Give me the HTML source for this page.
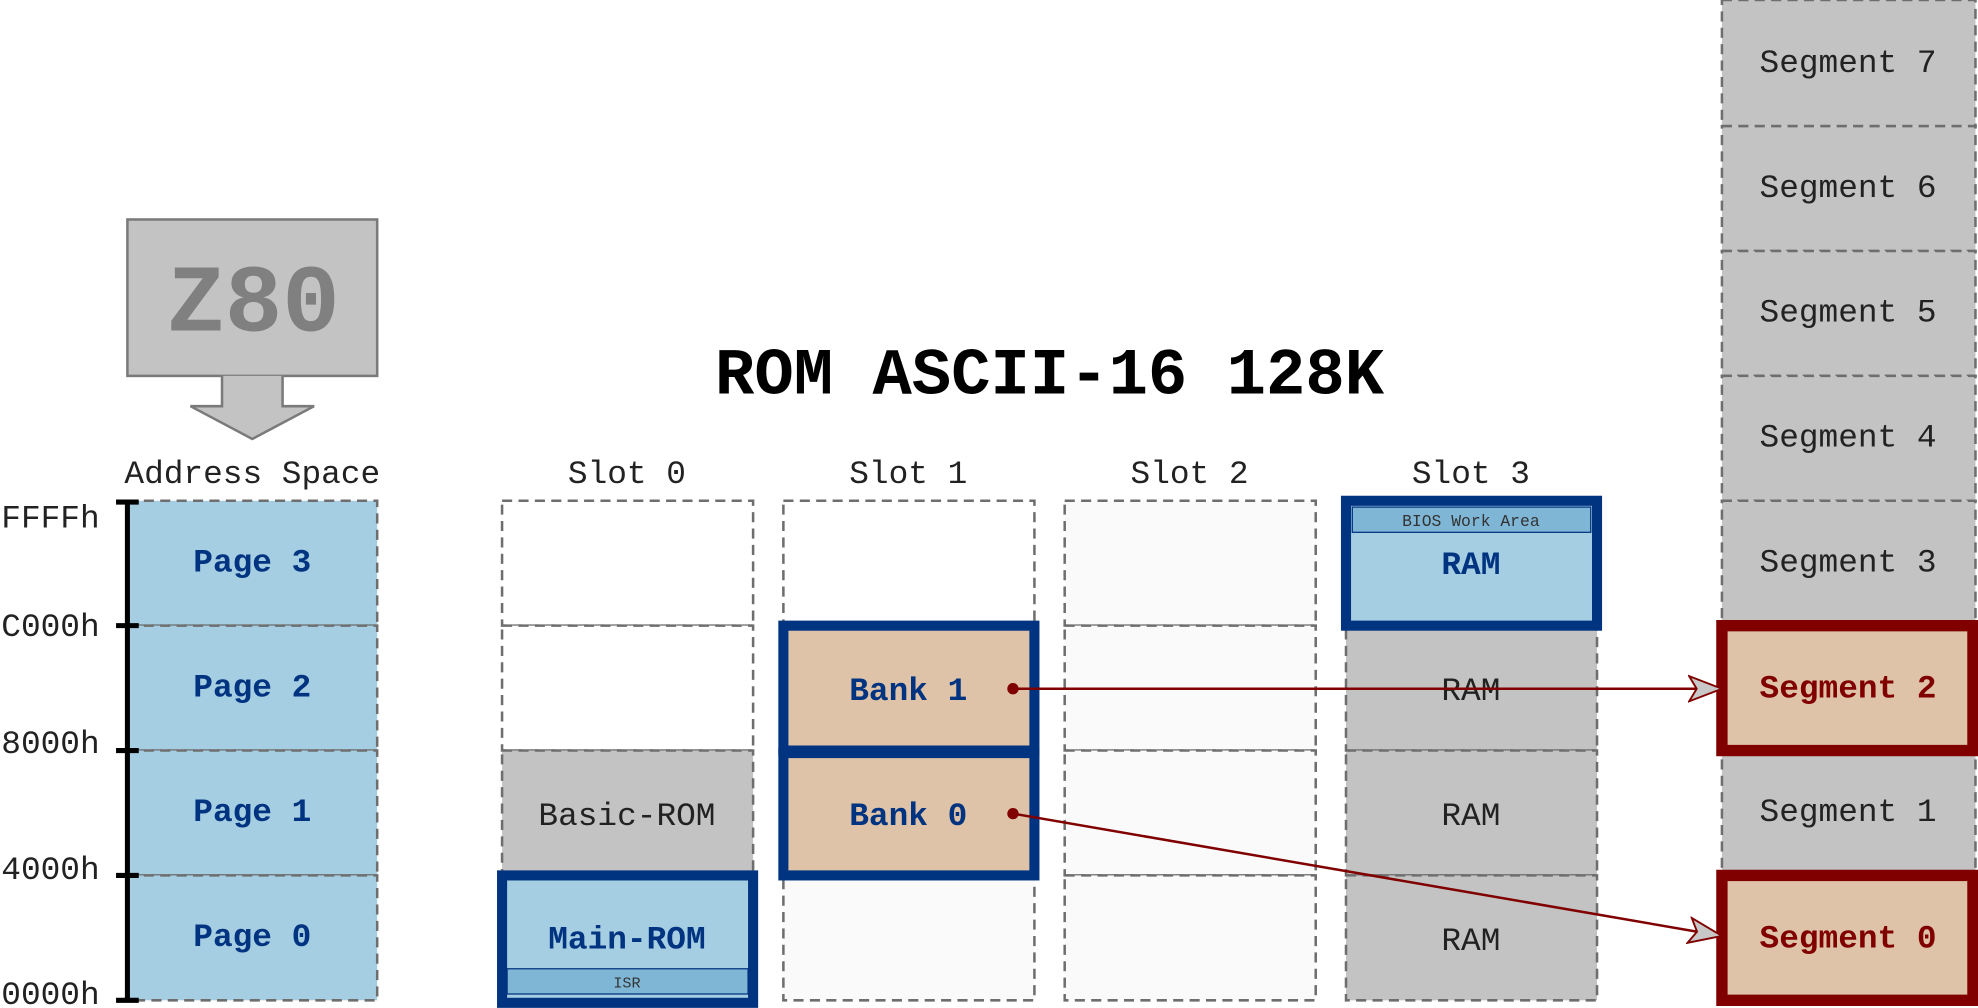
<!DOCTYPE html>
<html><head><meta charset="utf-8"><style>
html,body{margin:0;padding:0;background:#fff;width:1978px;height:1008px;overflow:hidden}
svg{display:block}
text{font-family:"Liberation Mono","DejaVu Sans Mono",monospace}
</style></head><body>
<svg width="1978" height="1008" viewBox="0 0 1568 799.1" preserveAspectRatio="none" xmlns="http://www.w3.org/2000/svg">
<defs>
<marker id="ah" markerWidth="30" markerHeight="24" refX="27" refY="12" orient="auto" markerUnits="userSpaceOnUse">
<path d="M1,2 L27,12 L1,22 L7,12 Z" fill="#c8c8c8" stroke="#800000" stroke-width="1.5"/>
</marker>
</defs>
<g stroke="#6e6e6e" stroke-width="2" stroke-dasharray="8,5">
<rect x="1365" y="0" width="201" height="100" fill="#c3c3c3"/>
<rect x="1365" y="100" width="201" height="99" fill="#c3c3c3"/>
<rect x="1365" y="199" width="201" height="99" fill="#c3c3c3"/>
<rect x="1365" y="298" width="201" height="99" fill="#c3c3c3"/>
<rect x="1365" y="397" width="201" height="99" fill="#c3c3c3"/>
<rect x="1365" y="595" width="201" height="99" fill="#c3c3c3"/>
<rect x="101" y="397" width="198" height="99" fill="#a6cee3"/>
<rect x="101" y="496" width="198" height="99" fill="#a6cee3"/>
<rect x="101" y="595" width="198" height="99" fill="#a6cee3"/>
<rect x="101" y="694" width="198" height="99" fill="#a6cee3"/>
<rect x="398" y="397" width="199" height="99" fill="#fff"/>
<rect x="398" y="496" width="199" height="99" fill="#fff"/>
<rect x="398" y="595" width="199" height="99" fill="#c3c3c3"/>
<rect x="621" y="397" width="199" height="99" fill="#fff"/>
<rect x="621" y="694" width="199" height="99" fill="#fafafa"/>
<rect x="844" y="397" width="199" height="99" fill="#fafafa"/>
<rect x="844" y="496" width="199" height="99" fill="#fafafa"/>
<rect x="844" y="595" width="199" height="99" fill="#fafafa"/>
<rect x="844" y="694" width="199" height="99" fill="#fafafa"/>
<rect x="1067" y="496" width="199" height="99" fill="#c3c3c3"/>
<rect x="1067" y="595" width="199" height="99" fill="#c3c3c3"/>
<rect x="1067" y="694" width="199" height="99" fill="#c3c3c3"/>
</g>
<g stroke="#000" stroke-width="4">
<line x1="101" y1="397" x2="101" y2="794"/>
<line x1="92" y1="398" x2="110" y2="398"/>
<line x1="92" y1="496" x2="110" y2="496"/>
<line x1="92" y1="595" x2="110" y2="595"/>
<line x1="92" y1="694" x2="110" y2="694"/>
<line x1="92" y1="793" x2="110" y2="793"/>
</g>
<g font-size="26" fill="#222" text-anchor="end">
<text x="79" y="418">FFFFh</text>
<text x="79" y="504">C000h</text>
<text x="79" y="597">8000h</text>
<text x="79" y="697">4000h</text>
<text x="79" y="796">0000h</text>
</g>
<rect x="101" y="174" width="198" height="124" fill="#c3c3c3" stroke="#7a7a7a" stroke-width="2"/>
<text x="201" y="262" font-size="76" font-weight="bold" fill="#808080" text-anchor="middle">Z80</text>
<path d="M176,298 L176,322 L151,322 L200,348 L249,322 L224,322 L224,298" fill="#c3c3c3" stroke="#7a7a7a" stroke-width="2"/>
<text x="832" y="312" font-size="52" font-weight="bold" fill="#000" text-anchor="middle">ROM ASCII-16 128K</text>
<g font-size="26" fill="#222" text-anchor="middle">
<text x="200" y="383">Address Space</text>
<text x="497" y="383">Slot 0</text>
<text x="720" y="383">Slot 1</text>
<text x="943" y="383">Slot 2</text>
<text x="1166" y="383">Slot 3</text>
<text x="497" y="654">Basic-ROM</text>
<text x="1166" y="555">RAM</text>
<text x="1166" y="654">RAM</text>
<text x="1166" y="753">RAM</text>
<text x="1465" y="57">Segment 7</text>
<text x="1465" y="156">Segment 6</text>
<text x="1465" y="255">Segment 5</text>
<text x="1465" y="354">Segment 4</text>
<text x="1465" y="453">Segment 3</text>
<text x="1465" y="651">Segment 1</text>
</g>
<g font-size="26" font-weight="bold" fill="#003380" text-anchor="middle">
<text x="200" y="453">Page 3</text>
<text x="200" y="552">Page 2</text>
<text x="200" y="651">Page 1</text>
<text x="200" y="750">Page 0</text>
</g>
<rect x="398" y="694" width="199" height="101" fill="#a6cee3" stroke="#003380" stroke-width="8"/>
<rect x="402" y="768" width="191" height="20" fill="#7fb6d6" stroke="#003380" stroke-width="1"/>
<text x="497" y="752" font-size="26" font-weight="bold" fill="#003380" text-anchor="middle">Main-ROM</text>
<text x="497" y="783" font-size="12" fill="#333" text-anchor="middle">ISR</text>
<rect x="621" y="496" width="199" height="99" fill="#dec3a8" stroke="#003380" stroke-width="8"/>
<rect x="621" y="597" width="199" height="97" fill="#dec3a8" stroke="#003380" stroke-width="8"/>
<text x="720" y="555" font-size="26" font-weight="bold" fill="#003380" text-anchor="middle">Bank 1</text>
<text x="720" y="654" font-size="26" font-weight="bold" fill="#003380" text-anchor="middle">Bank 0</text>
<rect x="1067" y="397" width="199" height="99" fill="#a6cee3" stroke="#003380" stroke-width="8"/>
<rect x="1072" y="402" width="189" height="20" fill="#7fb6d6" stroke="#003380" stroke-width="1"/>
<text x="1166" y="417" font-size="13" fill="#333" text-anchor="middle">BIOS Work Area</text>
<text x="1166" y="455" font-size="26" font-weight="bold" fill="#003380" text-anchor="middle">RAM</text>
<rect x="1365" y="496" width="199" height="99" fill="#dec3a8" stroke="#800000" stroke-width="9"/>
<rect x="1365" y="694" width="199" height="99" fill="#dec3a8" stroke="#800000" stroke-width="9"/>
<text x="1465" y="553" font-size="26" font-weight="bold" fill="#800000" text-anchor="middle">Segment 2</text>
<text x="1465" y="751" font-size="26" font-weight="bold" fill="#800000" text-anchor="middle">Segment 0</text>
<g stroke="#800000" stroke-width="2" fill="none">
<line x1="803" y1="546" x2="1365" y2="546" marker-end="url(#ah)"/>
<line x1="803" y1="645" x2="1365" y2="742" marker-end="url(#ah)"/>
</g>
<circle cx="803" cy="546" r="4.5" fill="#800000"/>
<circle cx="803" cy="645" r="4.5" fill="#800000"/>
</svg>
</body></html>
